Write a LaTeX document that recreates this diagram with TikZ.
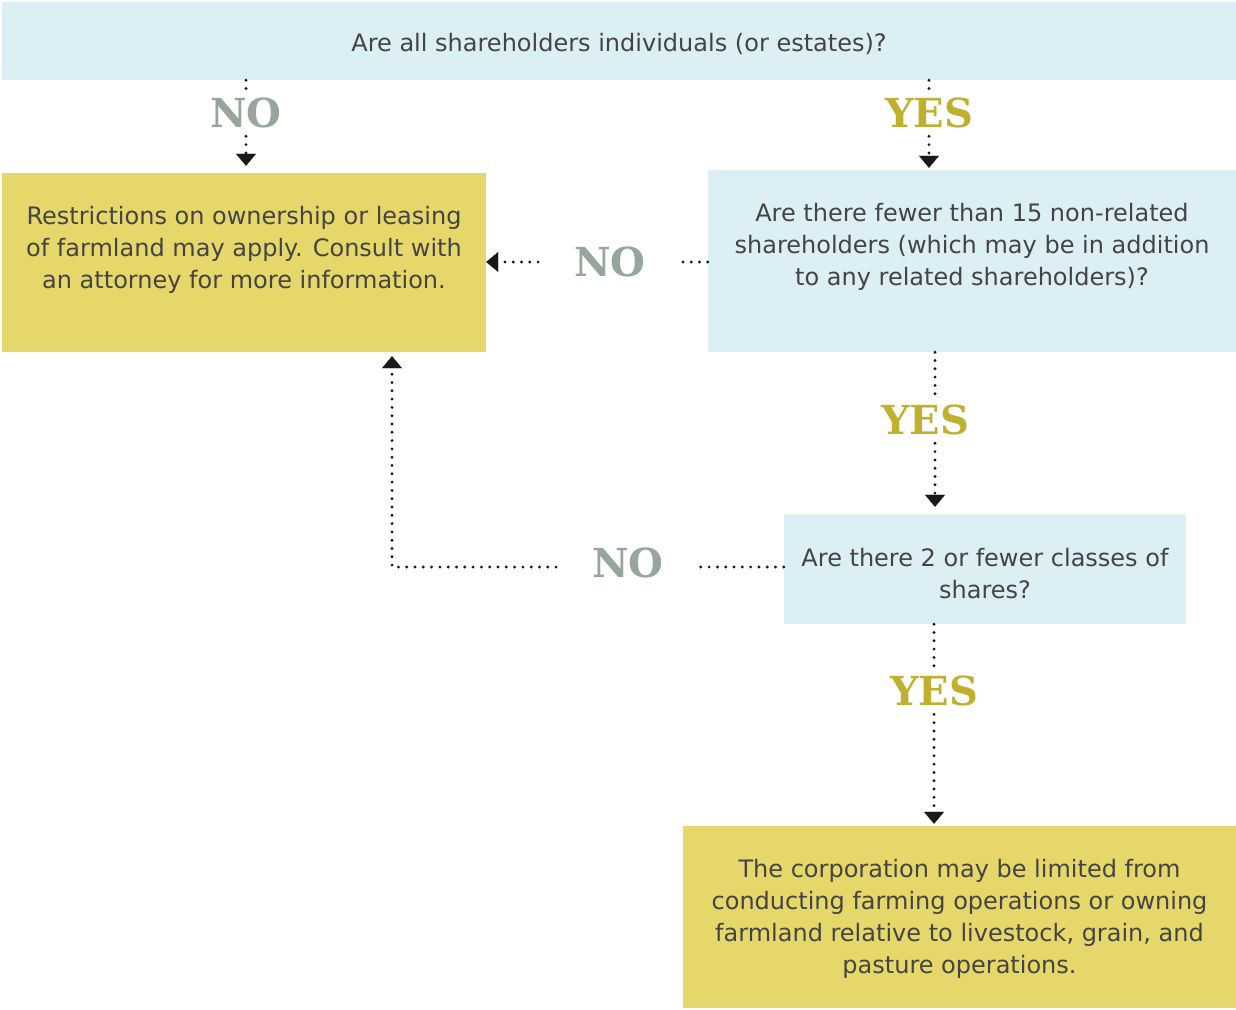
\documentclass[tikz,border=0pt]{standalone}
\usepackage{fontspec}
\setmainfont{DejaVu Sans}
\newfontfamily\answerfont{DejaVu Serif}
\usetikzlibrary{arrows.meta}
\definecolor{questionblue}{HTML}{DCEFF4}
\definecolor{resultyellow}{HTML}{E6D76A}
\definecolor{nogray}{HTML}{96A69B}
\definecolor{yesolive}{HTML}{C0B030}
\definecolor{bodytext}{HTML}{444444}
\tikzset{
    question/.style={
        fill=questionblue,
        inner sep=0pt
    },
    result/.style={
        fill=resultyellow,
        inner sep=0pt
    },
    boxtext/.style={
        text=bodytext,
        align=center,
        font=\fontsize{24}{32}\selectfont
    },
    answer/.style={
        font=\answerfont\bfseries\fontsize{40}{40}\selectfont,
        inner xsep=36pt,
        inner ysep=8pt
    },
    dotline/.style={
        line width=3.2pt,
        line cap=round,
        dash pattern=on 0pt off 8.3pt,
        black!90
    },
    tip/.style={
        -{Triangle[width=20pt,length=12pt,line width=0.1pt]}
    }
}

\begin{document}
\begin{tikzpicture}[x=1pt,y=-1pt]

\useasboundingbox (0,0) rectangle (1236,1009);

% boxes
\node[question, minimum width=1234pt, minimum height=78pt] (q1) at (619,41) {};
\node[result, minimum width=484pt, minimum height=179pt] (r1) at (244,262.5) {};
\node[question, minimum width=528pt, minimum height=182pt] (q2) at (972,261) {};
\node[question, minimum width=402pt, minimum height=110pt] (q3) at (985,569) {};
\node[result, minimum width=553pt, minimum height=182pt] (r2) at (959.5,917) {};

% box texts
\node[boxtext] (q1text) at (619,44) {Are all shareholders individuals (or estates)?};
\node[boxtext] (r1text) at (244,250) {Restrictions on ownership or leasing\\of farmland may apply. Consult with\\an attorney for more information.};
\node[boxtext] (q2text) at (972,247) {Are there fewer than 15 non-related\\shareholders (which may be in addition\\to any related shareholders)?};
\node[boxtext] (q3text) at (985,574) {Are there 2 or fewer classes of\\shares?};
\node[boxtext] (r2text) at (959.5,919) {The corporation may be limited from\\conducting farming operations or owning\\farmland relative to livestock, grain, and\\pasture operations.};

% answers
\node[answer, text=nogray] (no1) at (246,113) {NO};
\node[answer, text=yesolive] (yes1) at (929,113) {YES};
\node[answer, text=nogray] (no2) at (610,262) {NO};
\node[answer, text=yesolive] (yes2) at (925,420) {YES};
\node[answer, text=nogray] (no3) at (628,563) {NO};
\node[answer, text=yesolive] (yes3) at (934,691) {YES};
\coordinate (corner) at (392,567);

% connectors
\draw[dotline] (q1.south -| no1) -- (no1);
\draw[dotline, tip, shorten >=7pt] (no1) -- (r1.north -| no1);
\draw[dotline] (q1.south -| yes1) -- (yes1);
\draw[dotline, tip, shorten >=2pt] (yes1) -- (q2.north -| yes1);
\draw[dotline] (q2.west |- no2) -- (no2);
\draw[dotline, tip] (no2) -- (r1.east |- no2);
\draw[dotline] ([xshift=10pt]q2.south -| yes2) -- ([xshift=10pt]yes2.north);
\draw[dotline, tip, shorten >=7pt] ([xshift=10pt]yes2.south) -- ([xshift=10pt]q3.north -| yes2);
\draw[dotline] (q3.west |- corner) -- (no3.east |- corner);
\draw[dotline, tip, shorten >=4pt] (no3.west |- corner) -- (corner) -- (r1.south -| corner);
\draw[dotline] (q3.south -| yes3) -- (yes3);
\draw[dotline, tip, shorten >=2pt] (yes3) -- (r2.north -| yes3);

\end{tikzpicture}
\end{document}
